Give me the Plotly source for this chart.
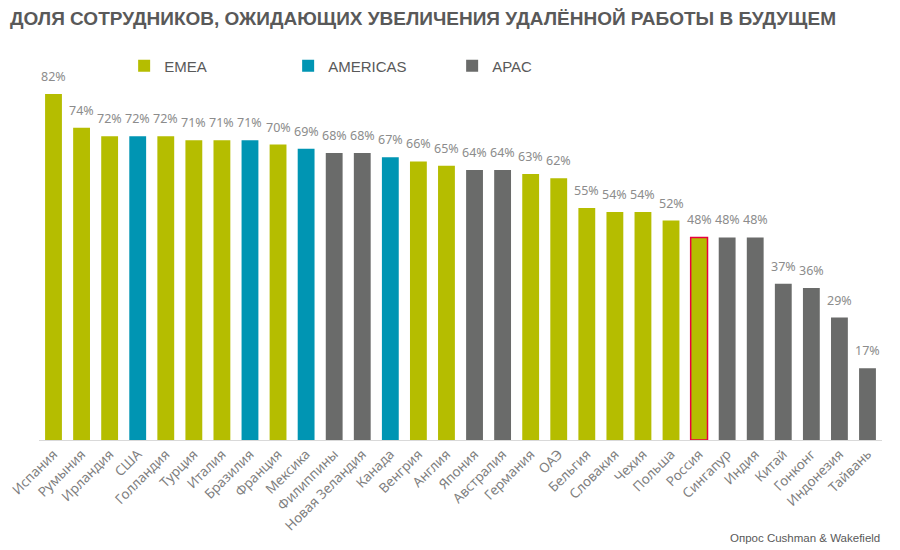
import plotly.graph_objects as go

countries = ["Испания", "Румыния", "Ирландия", "США", "Голландия", "Турция", "Италия",
             "Бразилия", "Франция", "Мексика", "Филиппины", "Новая Зеландия", "Канада",
             "Венгрия", "Англия", "Япония", "Австралия", "Германия", "ОАЭ", "Бельгия",
             "Словакия", "Чехия", "Польша", "Россия", "Сингапур", "Индия", "Китай",
             "Гонконг", "Индонезия", "Тайвань"]
values = [82, 74, 72, 72, 72, 71, 71, 71, 70, 69, 68, 68, 67, 66, 65, 64, 64, 63, 62,
          55, 54, 54, 52, 48, 48, 48, 37, 36, 29, 17]
regions = ["EMEA", "EMEA", "EMEA", "AMERICAS", "EMEA", "EMEA", "EMEA", "AMERICAS", "EMEA",
           "AMERICAS", "APAC", "APAC", "AMERICAS", "EMEA", "EMEA", "APAC", "APAC", "EMEA",
           "EMEA", "EMEA", "EMEA", "EMEA", "EMEA", "EMEA", "APAC", "APAC", "APAC", "APAC",
           "APAC", "APAC"]
highlight = "Россия"

region_order = ["EMEA", "AMERICAS", "APAC"]
colors = {"EMEA": "#b5bd00", "AMERICAS": "#0095b3", "APAC": "#6a6b6a"}

fig = go.Figure()
for reg in region_order:
    xs = [c for c, r in zip(countries, regions) if r == reg]
    ys = [v for v, r in zip(values, regions) if r == reg]
    line_colors = ["#e8003d" if c == highlight else colors[reg] for c in xs]
    line_widths = [1.5 if c == highlight else 0 for c in xs]
    fig.add_trace(go.Bar(
        x=xs, y=ys, name=reg,
        marker=dict(color=colors[reg], line=dict(color=line_colors, width=line_widths)),
        width=0.6,
        hoverinfo="x+y",
    ))

for c, v in zip(countries, values):
    fig.add_annotation(x=c, y=v, text=f"{v}%", showarrow=False, yanchor="bottom",
                       yshift=7, font=dict(family="Noto Sans", size=12.5, color="#8c8c8c"))

fig.add_annotation(xref="paper", yref="paper", x=1.0, y=-0.272, xanchor="right",
                   yanchor="middle", text="Опрос Cushman & Wakefield", showarrow=False,
                   font=dict(family="Liberation Sans", size=11.5, color="#595959"))

fig.update_layout(
    width=892, height=542,
    paper_bgcolor="white", plot_bgcolor="white",
    margin=dict(l=31, r=18, t=72, b=110, autoexpand=False),
    barmode="overlay",
    title=dict(text="<b>ДОЛЯ СОТРУДНИКОВ, ОЖИДАЮЩИХ УВЕЛИЧЕНИЯ УДАЛЁННОЙ РАБОТЫ В БУДУЩЕМ</b>",
               x=2 / 892, xref="container", xanchor="left",
               y=1 - 10 / 542, yref="container", yanchor="middle",
               font=dict(family="Liberation Sans", size=19, color="#595959")),
    legend=dict(orientation="h", x=0.101, xanchor="left", y=1.039, yanchor="middle",
                font=dict(family="Liberation Sans", size=15, color="#595959"),
                entrywidth=119, entrywidthmode="pixels", bgcolor="rgba(0,0,0,0)"),
    xaxis=dict(type="category", categoryorder="array", categoryarray=countries,
               tickangle=-45, showgrid=False, showline=True, linecolor="#d9d9d9",
               linewidth=1, ticks="", automargin=False,
               tickfont=dict(family="Noto Sans", size=13.5, color="#7f7f7f")),
    yaxis=dict(range=[0, 85.3], visible=False, showgrid=False, zeroline=False),
    showlegend=True,
)

fig.write_html("out.html")
